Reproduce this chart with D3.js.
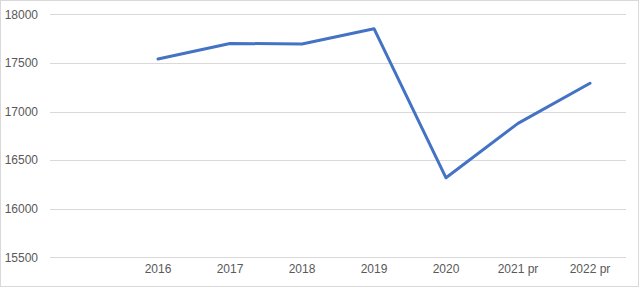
<!DOCTYPE html>
<html>
<head>
<meta charset="utf-8">
<script src="https://cdn.jsdelivr.net/npm/d3@7"></script>
<style>
    body { margin: 0; background: #fff; }
    text { font-family: "Liberation Sans", "DejaVu Sans", sans-serif; }
</style>
</head>
<body>
<script>
//categories and values
var categories = ["", "2016", "2017", "2018", "2019", "2020", "2021 pr", "2022 pr"];
var values = [null, 17540, 17700, 17695, 17852, 16318, 16878, 17290];
var yTicks = [15500, 16000, 16500, 17000, 17500, 18000];

var width = 640,
    height = 288,
    plotLeft = 50,
    plotRight = 626,
    plotTop = 14.3,
    plotBottom = 257.3;

var svg = d3.select("body")
    .append("svg")
    .attr("width", width)
    .attr("height", height);

//chart border
svg.append("rect")
    .attr("x", 0.5)
    .attr("y", 0.5)
    .attr("width", width - 2)
    .attr("height", height - 2)
    .attr("fill", "#fff")
    .attr("stroke", "#d9d9d9");

var x = d3.scaleBand()
    .domain(categories.map(function (d, i) { return i; }))
    .range([plotLeft, plotRight]);

var y = d3.scaleLinear()
    .domain([15500, 18000])
    .range([plotBottom, plotTop]);

//gridlines
svg.selectAll(".grid")
    .data(yTicks)
    .enter()
    .append("line")
    .attr("class", "grid")
    .attr("x1", plotLeft)
    .attr("x2", plotRight)
    .attr("y1", function (d) { return Math.round(y(d)) + 0.5; })
    .attr("y2", function (d) { return Math.round(y(d)) + 0.5; })
    .attr("stroke", "#d9d9d9")
    .attr("stroke-width", 1);

//y axis labels
var yAxis = d3.axisLeft(y).tickValues(yTicks).tickSize(0).tickPadding(0).tickFormat(d3.format("d"));
var yG = svg.append("g")
    .attr("transform", "translate(38,0)")
    .call(yAxis);
yG.select(".domain").remove();
yG.selectAll("text")
    .attr("fill", "#595959")
    .style("font-size", "12px")
    .style("font-family", "'Liberation Sans', sans-serif");

//x axis labels
var xAxis = d3.axisBottom(x).tickSize(0).tickPadding(0).tickFormat(function (i) { return categories[i]; });
var xG = svg.append("g")
    .attr("transform", "translate(0,264)")
    .call(xAxis);
xG.select(".domain").remove();
xG.selectAll("text")
    .attr("fill", "#595959")
    .style("font-size", "12px")
    .style("font-family", "'Liberation Sans', sans-serif");

//the line
var line = d3.line()
    .defined(function (d) { return d != null; })
    .x(function (d, i) { return x(i) + x.bandwidth() / 2; })
    .y(function (d) { return y(d); });

svg.append("path")
    .datum(values)
    .attr("d", line)
    .attr("fill", "none")
    .attr("stroke", "#4472c4")
    .attr("stroke-width", 3)
    .attr("stroke-linejoin", "round")
    .attr("stroke-linecap", "round");
</script>
</body>
</html>
